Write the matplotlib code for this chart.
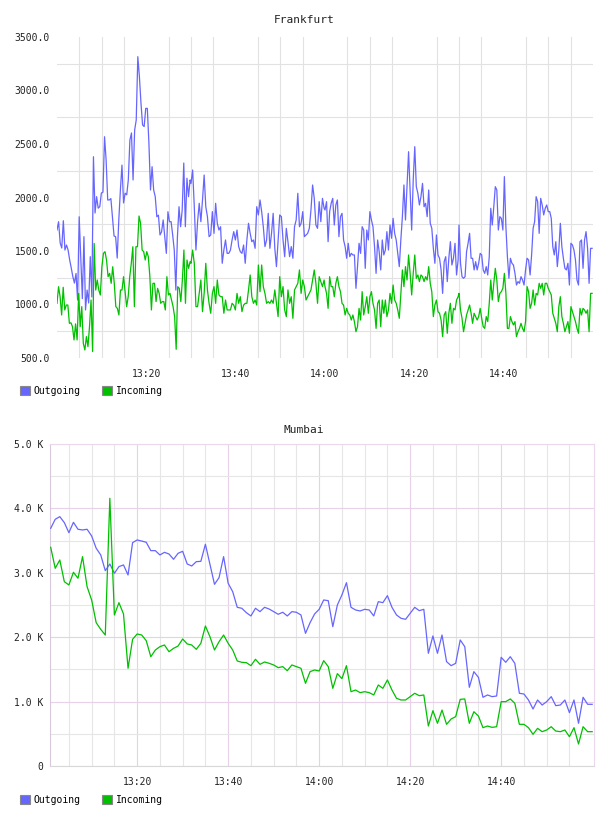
import numpy as np
import matplotlib
matplotlib.use('Agg')
import matplotlib.pyplot as plt
from matplotlib.patches import Patch
from matplotlib.ticker import FixedLocator, FuncFormatter

plt.rcParams['font.family'] = ['DejaVu Sans Mono']

# ---------- Frankfurt (30 s samples, read in four time segments) ----------
fr_seg_bounds = [(0.0, 29.8), (30.0, 59.8), (60.0, 89.8), (90.0, 119.8)]

fr_out_1 = [1696, 1774, 1575, 1528, 1783, 1509, 1556, 1509, 1416, 1341, 1260, 1200, 1290, 1042, 1820,
            1447, 1055, 1634, 949, 1135, 1014, 1447, 1070, 2381, 1855, 2008, 1900, 1915, 2042, 2050,
            2568, 2350, 1977, 1977, 1990, 1820, 1640, 1634, 1434, 1790, 2070, 2303, 1949, 2040, 2025,
            2164, 2537, 2603, 2164, 2630, 2724, 3316, 3129, 2880, 2678, 2663, 2833, 2833, 2509, 2070,
            2288, 2070, 2008, 1820, 1835, 1650, 1680, 1790, 1634, 1478, 1867, 1774, 1774, 1650, 1509,
            1135, 1634, 1914, 1727, 1883, 2322, 1727, 2180, 2008, 2164]
fr_out_2 = [2132, 2257, 1914, 1509, 1774, 1946, 1774, 1977, 2210, 1914, 1821, 1634, 1650, 1868, 1665,
            1946, 1759, 1696, 1727, 1385, 1509, 1603, 1478, 1478, 1509, 1603, 1681, 1603, 1696, 1541,
            1494, 1478, 1556, 1385, 1603, 1759, 1665, 1587, 1603, 1525, 1914, 1837, 1977, 1868, 1727,
            1541, 1603, 1852, 1525, 1665, 1852, 1525, 1354, 1603, 1837, 1821, 1603, 1447, 1712, 1587,
            1447, 1541, 1432, 1727, 1790, 2039, 1727, 1759, 1868, 1634, 1650, 1665, 1712, 1883, 2117,
            1992, 1743, 1712, 1961, 1774, 1992, 1899]
fr_out_3 = [1883, 1961, 1587, 1868, 1946, 1992, 1743, 1930, 1977, 1634, 1821, 1852, 1603, 1541, 1432,
            1572, 1447, 1478, 1463, 1463, 1151, 1354, 1572, 1478, 1727, 1696, 1338, 1696, 1603, 1868,
            1790, 1727, 1541, 1291, 1603, 1494, 1323, 1603, 1463, 1509, 1681, 1509, 1743, 1619, 1805,
            1665, 1603, 1478, 1354, 1603, 1821, 2117, 1790, 2101, 2428, 2070, 1696, 2164, 2475, 2101,
            2039, 1930, 2008, 2132, 1914, 1946, 1821, 2070, 1759, 1712, 1525, 1385, 1650, 1463, 1432,
            1323, 1104, 1400, 1447, 1214, 1432, 1587, 1369, 1432, 1572, 1276, 1416]
fr_out_4 = [1743, 1385, 1260, 1245, 1260, 1494, 1572, 1665, 1432, 1432, 1323, 1400, 1323, 1385, 1478,
            1463, 1323, 1291, 1354, 1276, 1447, 1899, 1743, 1914, 2101, 2070, 1696, 1821, 1805, 1696,
            2195, 1727, 1447, 1245, 1432, 1385, 1369, 1291, 1182, 1214, 1198, 1260, 1229, 1182, 1323,
            1432, 1416, 1276, 1463, 1712, 1774, 2008, 1961, 1665, 1992, 1930, 1837, 1899, 1930, 1868,
            1868, 1805, 1541, 1463, 1587, 1354, 1509, 1759, 1541, 1432, 1338, 1323, 1385, 1182, 1572,
            1556, 1509, 1416, 1229, 1182, 1587, 1603, 1338, 1603, 1681, 1525, 1198, 1525, 1525]

fr_in_1 = [1011, 1166, 1073, 902, 1161, 949, 995, 995, 824, 829, 793, 669, 819, 669, 1104,
           793, 980, 637, 575, 700, 606, 793, 1042, 560, 1571, 1135, 1229, 1135, 1089, 1353,
           1478, 1494, 1416, 1260, 1291, 1198, 1353, 1198, 980, 964, 902, 1135, 1135, 1260, 1120,
           980, 1073, 1260, 1385, 1540, 980, 1540, 1540, 1827, 1758, 1509, 1494, 1416, 1494, 1447,
           1260, 949, 1198, 1198, 1027, 1151, 1104, 1011, 1027, 1027, 949, 1260, 1089, 1104, 1042,
           980, 886, 581, 1166, 1151, 1027, 1229, 1509, 1011, 1416, 1338, 1400]
fr_in_2 = [1385, 1509, 1385, 980, 980, 1104, 1229, 933, 1104, 1385, 1136, 1011, 918, 1104, 1167,
           1011, 1229, 1089, 1073, 1073, 918, 1042, 949, 949, 949, 1011, 995, 949, 1104, 1011,
           1073, 933, 995, 1011, 1011, 1136, 1276, 1073, 1011, 1042, 995, 1369, 1120, 1369, 1167,
           1104, 1011, 1027, 1011, 1042, 1011, 1136, 1011, 887, 1260, 1073, 1167, 949, 887, 1136,
           1011, 1073, 871, 1136, 1167, 1198, 1323, 1104, 1229, 1167, 1042, 1073, 1104, 1136, 1229,
           1323, 1198, 1011, 1260, 1214, 1167, 1229]
fr_in_3 = [1167, 1104, 964, 1260, 1167, 1167, 1073, 1198, 1260, 1167, 1120, 1011, 995, 902, 964,
           918, 902, 855, 902, 840, 746, 793, 964, 855, 1120, 902, 980, 1073, 918, 1073,
           1120, 1011, 949, 777, 1011, 1042, 793, 1042, 918, 1042, 887, 949, 1104, 1011, 1182,
           1042, 1011, 949, 871, 1104, 1323, 1167, 1354, 1229, 1463, 1291, 1089, 1291, 1463, 1245,
           1276, 1214, 1276, 1260, 1214, 1260, 1229, 1354, 1198, 1120, 887, 995, 1042, 933, 918,
           855, 700, 902, 933, 731, 918, 1011, 824, 964, 949, 1042, 1073]
fr_in_4 = [1104, 949, 871, 746, 824, 902, 949, 995, 918, 824, 918, 887, 855, 887, 964,
           871, 793, 777, 887, 840, 1011, 1229, 1042, 1198, 1338, 1229, 1027, 1104, 1120, 1151,
           1291, 1104, 777, 777, 887, 840, 809, 840, 700, 746, 777, 824, 777, 746, 840,
           1167, 1120, 964, 1011, 1136, 995, 1104, 1089, 1198, 1151, 1198, 1089, 1198, 1198, 1151,
           1120, 1089, 918, 871, 824, 746, 980, 1073, 887, 824, 746, 793, 840, 731, 980,
           933, 887, 840, 777, 731, 964, 902, 964, 949, 918, 949, 746, 1104, 1104]

# ---------- Mumbai (1 min samples, 13:01 .. 15:00) ----------
mu_out = [3691, 3831, 3872, 3779, 3623, 3784, 3676, 3665, 3676, 3572,
          3381, 3277, 3033, 3137, 2992, 3096, 3122, 2966, 3468, 3510,
          3493, 3474, 3344, 3344, 3277, 3318, 3292, 3210, 3303, 3334,
          3137, 3106, 3173, 3178, 3443, 3132, 2821, 2925, 3251, 2837,
          2707, 2464, 2449, 2381, 2330, 2449, 2397, 2464, 2438, 2397,
          2356, 2387, 2330, 2397, 2387, 2345, 2060, 2225, 2361, 2433,
          2578, 2567, 2163, 2500, 2656, 2847, 2464, 2423, 2407, 2433,
          2423, 2330, 2552, 2536, 2645, 2464, 2345, 2293, 2278, 2371,
          2464, 2412, 2433, 1750, 2019, 1750, 2034, 1620, 1558, 1594,
          1957, 1853, 1222, 1465, 1377, 1067, 1103, 1077, 1087, 1688,
          1610, 1697, 1594, 1129, 1118, 1025, 885, 1025, 947, 999,
          1077, 937, 947, 1025, 828, 1025, 663, 1067, 958, 958]
mu_in = [3396, 3070, 3199, 2862, 2811, 3008, 2915, 3251, 2785, 2578,
         2225, 2122, 2034, 4157, 2345, 2536, 2361, 1517, 1967, 2050,
         2034, 1946, 1697, 1801, 1853, 1879, 1775, 1827, 1863, 1972,
         1895, 1879, 1812, 1905, 2174, 2008, 1801, 1930, 2034, 1905,
         1801, 1631, 1610, 1605, 1558, 1657, 1579, 1615, 1595, 1569,
         1527, 1543, 1480, 1569, 1543, 1517, 1284, 1465, 1491, 1475,
         1636, 1543, 1206, 1434, 1356, 1558, 1154, 1180, 1139, 1154,
         1139, 1103, 1258, 1206, 1336, 1180, 1051, 1025, 1025, 1077,
         1129, 1092, 1103, 621, 859, 663, 869, 647, 730, 766,
         1035, 1041, 663, 843, 776, 595, 621, 600, 610, 999,
         999, 1041, 973, 647, 647, 595, 492, 585, 533, 559,
         610, 543, 533, 559, 455, 595, 342, 610, 533, 533]

time_ticks = [20, 40, 60, 80, 100]
time_labels = ['13:20', '13:40', '14:00', '14:20', '14:40']
series_names = ['Outgoing', 'Incoming']

C_OUT = '#6666ff'
C_IN = '#00c000'
TXT = '#222222'
LW = 0.9


def seg_series(segments):
    ts, vs = [], []
    for (t0, t1), vals in zip(fr_seg_bounds, segments):
        ts.append(np.linspace(t0, t1, len(vals)))
        vs.append(np.asarray(vals, dtype=float))
    return np.concatenate(ts), np.concatenate(vs)


def add_legend(fig, y):
    handles = [Patch(facecolor=C_OUT, edgecolor='#888888', linewidth=0.8),
               Patch(facecolor=C_IN, edgecolor='#888888', linewidth=0.8)]
    fig.legend(handles, series_names, loc='center left', bbox_to_anchor=(0.033, y),
               ncol=2, frameon=False, fontsize=7, handlelength=1.0, handleheight=1.0,
               handletextpad=0.4, columnspacing=2.2, borderaxespad=0, borderpad=0)


fig = plt.figure(figsize=(6.08, 8.16), dpi=100)

# ---- Frankfurt ----
ax = fig.add_axes([57 / 608, 1 - 358 / 816, 536 / 608, 321 / 816])
t_out, v_out = seg_series([fr_out_1, fr_out_2, fr_out_3, fr_out_4])
t_in, v_in = seg_series([fr_in_1, fr_in_2, fr_in_3, fr_in_4])
ax.plot(t_out, v_out, color=C_OUT, lw=LW, zorder=3)
ax.plot(t_in, v_in, color=C_IN, lw=LW, zorder=3)
ax.set_xlim(0, 120)
ax.set_ylim(500, 3500)
ax.yaxis.set_major_locator(FixedLocator(np.arange(500, 3501, 500)))
ax.yaxis.set_major_formatter(FuncFormatter(lambda v, p: f'{v:.1f}'))
ax.yaxis.set_minor_locator(FixedLocator(np.arange(750, 3300, 500)))
ax.set_xticks(time_ticks)
ax.set_xticklabels(time_labels)
ax.xaxis.set_minor_locator(FixedLocator(np.arange(5, 120, 5)))
ax.grid(True, which='minor', color='#e2e2e2', lw=0.8)
ax.grid(False, which='major')
for s in ax.spines.values():
    s.set_visible(False)
ax.tick_params(which='both', length=0)
ax.tick_params(axis='y', pad=5, labelsize=7, labelcolor=TXT)
ax.tick_params(axis='x', pad=8, labelsize=7, labelcolor=TXT)
fig.text(0.5, 1 - 20 / 816, 'Frankfurt', ha='center', va='center', fontsize=8, color=TXT)
add_legend(fig, 1 - 391 / 816)

# ---- Mumbai ----
ax2 = fig.add_axes([50 / 608, 1 - 766 / 816, 544 / 608, 322 / 816])
mu_t = np.arange(1, len(mu_out) + 1)
ax2.plot(mu_t, mu_out, color=C_OUT, lw=LW, zorder=3)
ax2.plot(mu_t, mu_in, color=C_IN, lw=LW, zorder=3)
ax2.set_xlim(0.85, 120.4)
ax2.set_ylim(0, 5000)
mu_ylabels = ['0', '1.0 K', '2.0 K', '3.0 K', '4.0 K', '5.0 K']
ax2.set_yticks(np.arange(0, 5001, 1000))
ax2.set_yticklabels(mu_ylabels)
ax2.set_yticks(np.arange(500, 5000, 1000), minor=True)
ax2.set_xticks(time_ticks)
ax2.set_xticklabels(time_labels)
ax2.set_xticks([m for m in range(5, 120, 5) if m % 20], minor=True)
ax2.grid(True, which='minor', color='#e6e6e6', lw=0.8)
ax2.grid(True, which='major', color='#e8d0e8', lw=0.8)
ax2.spines['left'].set_color('#d8c8dc')
ax2.spines['top'].set_color('#ecd8ec')
ax2.spines['right'].set_color('#ecd8ec')
ax2.spines['bottom'].set_color('#d8d8d8')
for s in ax2.spines.values():
    s.set_linewidth(0.8)
ax2.tick_params(which='both', length=0)
ax2.tick_params(axis='y', pad=5, labelsize=7, labelcolor=TXT)
ax2.tick_params(axis='x', pad=8, labelsize=7, labelcolor=TXT)
fig.text(0.5, 1 - 430 / 816, 'Mumbai', ha='center', va='center', fontsize=8, color=TXT)
add_legend(fig, 1 - 800 / 816)

fig.savefig('out.png', dpi=100, facecolor='white')
